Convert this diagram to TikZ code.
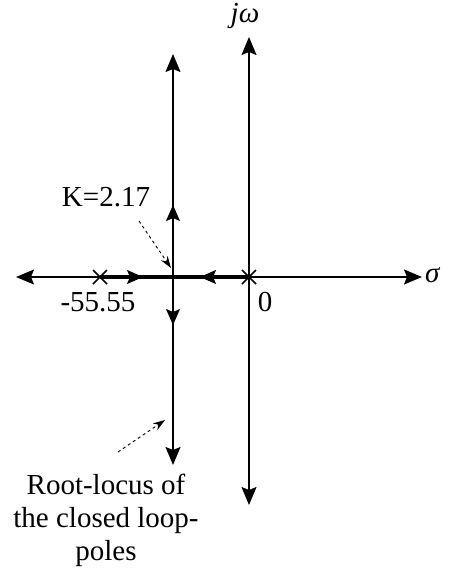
\documentclass[tikz,border=0pt]{standalone}
\usepackage{fontspec}
\setmainfont{Liberation Serif}
\usetikzlibrary{arrows.meta,calc}
\tikzset{
  tip/.style={-{Stealth[length=18pt,width=15pt,inset=3pt]}},
  bitip/.style={{Stealth[length=18pt,width=15pt,inset=3pt]}-{Stealth[length=18pt,width=15pt,inset=3pt]}},
  midtip/.style={-{Stealth[length=16pt,width=14pt,inset=3pt]}},
  thin line/.style={line width=1.4pt},
  pole/.style={line width=1.6pt},
  lbl/.style={font=\fontsize{29}{33}\selectfont, inner sep=0pt},
  note/.style={dashed, line width=0.9pt, -{Stealth[length=12pt,width=8pt]}}
}
\begin{document}
\begin{tikzpicture}[x=1pt,y=-1pt]
\useasboundingbox (0,0) rectangle (456,568);
% coordinates
\coordinate (axL) at (16,277);
\coordinate (axR) at (422,277);
\coordinate (jT) at (249,37);
\coordinate (jB) at (249,505);
\coordinate (vT) at (173,54);
\coordinate (vB) at (173,465);
\coordinate (p1) at (100,277);
\coordinate (p0) at (249,277);
\coordinate (br) at (173,277);
% axes
\draw[thin line,bitip] (axL) -- (axR);
\draw[thin line,bitip] (jB) -- (jT);
% vertical locus
\draw[thin line,tip] (br) -- (vT);
\draw[thin line,tip] (br) -- (vB);
\coordinate (u1) at (173,222); \coordinate (u2) at (173,205);
\coordinate (d1) at (173,308); \coordinate (d2) at (173,325);
\draw[thin line,midtip] (u1) -- (u2);
\draw[thin line,midtip] (d1) -- (d2);
% thick real-axis locus
\draw[line width=4pt] (p1) -- (p0);
\coordinate (r1) at (125,277); \coordinate (r2) at (143,277);
\coordinate (l1) at (218,277); \coordinate (l2) at (200,277);
\draw[thin line,midtip] (r1) -- (r2);
\draw[thin line,midtip] (l1) -- (l2);
% poles
\draw[pole] ($(p1)+(-7,-7)$) -- ($(p1)+(7,7)$) ($(p1)+(-7,7)$) -- ($(p1)+(7,-7)$);
\draw[pole] ($(p0)+(-7,-7)$) -- ($(p0)+(7,7)$) ($(p0)+(-7,7)$) -- ($(p0)+(7,-7)$);
% labels
\node[lbl] (jw) at (245,16) {\textit{jω}};
\node[lbl,anchor=west] (sg) at (425,275) {\textit{σ}};
\node[lbl] (m55) at (98,302) {-55.55};
\node[lbl] (zero) at (265,302) {0};
\node[lbl] (K) at (106,197) {K=2.17};
\node[lbl,align=center] (RL) at (106,520) {Root-locus of\\the closed loop-\\poles};
% annotation arrows
\coordinate (ka) at (139,221);
\coordinate (kb) at (171,268);
\draw[note] (ka) -- (kb);
\coordinate (ra) at (118,452);
\coordinate (rb) at (165,420);
\draw[note] (ra) -- (rb);
\end{tikzpicture}
\end{document}
